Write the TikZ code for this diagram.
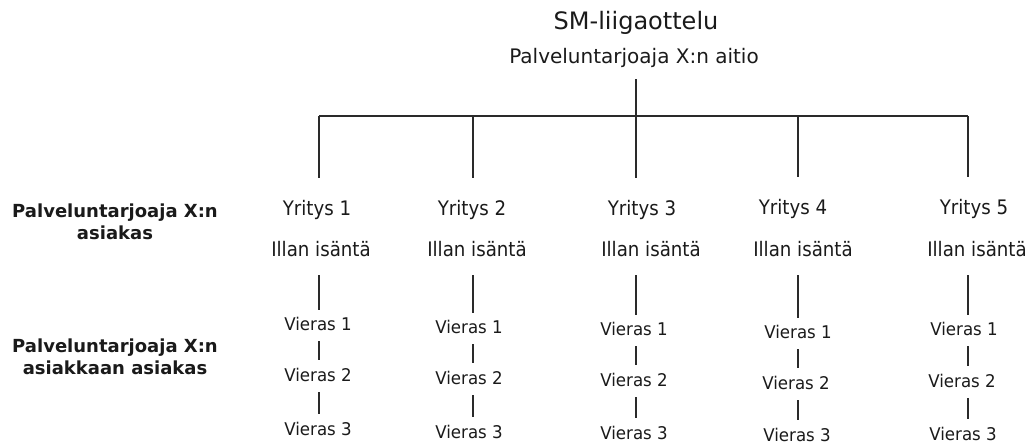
\documentclass[tikz,border=0pt]{standalone}
\usepackage{fontspec}
\setmainfont{DejaVu Sans}
\newfontfamily\firmfont{DejaVu Sans}[FakeStretch=0.91]
\newfontfamily\guestfont{DejaVu Sans}[FakeStretch=0.95]
\definecolor{textc}{HTML}{1A1A1A}
\definecolor{linec}{HTML}{2A2A2A}
\tikzset{
  txt/.style={inner sep=0pt, anchor=base, text=textc},
  titletxt/.style={txt, font=\fontsize{24}{28}\selectfont},
  subtxt/.style={txt, font=\fontsize{20}{24}\selectfont},
  firmtxt/.style={txt, font=\firmfont\fontsize{20}{24}\selectfont},
  guesttxt/.style={txt, font=\guestfont\fontsize{17.5}{21}\selectfont},
  sidetxt/.style={inner sep=0pt, anchor=center, align=center, text=textc, font=\bfseries\fontsize{18}{22.5}\selectfont},
  conn/.style={draw=linec, line width=1.3pt},
  hostconn/.style={conn, shorten <=19pt, shorten >=7pt},
  guestconn/.style={conn, shorten <=11pt, shorten >=8pt},
  barconn/.style={conn, shorten >=22pt},
}
\begin{document}
\begin{tikzpicture}[x=1pt,y=-1pt]
\useasboundingbox[fill=white] (0,0) rectangle (1035,445);

% title
\node[titletxt] (title) at (636,29) {SM-liigaottelu};
\node[subtxt] (sub) at (634,63) {Palveluntarjoaja X:n aitio};

% side labels
\node[sidetxt] (side1) at (115,222) {Palveluntarjoaja X:n\\asiakas};
\node[sidetxt] (side2) at (115,357) {Palveluntarjoaja X:n\\asiakkaan asiakas};

% bar coordinates
\coordinate (hub) at (636,116);
\coordinate (b1) at (319,116);
\coordinate (b2) at (473,116);
\coordinate (b3) at (636,116);
\coordinate (b4) at (798,116);
\coordinate (b5) at (968,116);

% firms
\node[firmtxt] (y1) at (317,215) {Yritys 1};
\node[firmtxt] (y2) at (472,215) {Yritys 2};
\node[firmtxt] (y3) at (642,215) {Yritys 3};
\node[firmtxt] (y4) at (793,214) {Yritys 4};
\node[firmtxt] (y5) at (974,214) {Yritys 5};

% hosts
\node[firmtxt] (h1) at (321,256) {Illan isäntä};
\node[firmtxt] (h2) at (477,256) {Illan isäntä};
\node[firmtxt] (h3) at (651,256) {Illan isäntä};
\node[firmtxt] (h4) at (803,256) {Illan isäntä};
\node[firmtxt] (h5) at (977,256) {Illan isäntä};

% guests
\node[guesttxt] (g11) at (318,330) {Vieras 1};
\node[guesttxt] (g12) at (318,381) {Vieras 2};
\node[guesttxt] (g13) at (318,435) {Vieras 3};

\node[guesttxt] (g21) at (469,333) {Vieras 1};
\node[guesttxt] (g22) at (469,384) {Vieras 2};
\node[guesttxt] (g23) at (469,438) {Vieras 3};

\node[guesttxt] (g31) at (634,335) {Vieras 1};
\node[guesttxt] (g32) at (634,386) {Vieras 2};
\node[guesttxt] (g33) at (634,439) {Vieras 3};

\node[guesttxt] (g41) at (798,338) {Vieras 1};
\node[guesttxt] (g42) at (796,389) {Vieras 2};
\node[guesttxt] (g43) at (797,441) {Vieras 3};

\node[guesttxt] (g51) at (964,335) {Vieras 1};
\node[guesttxt] (g52) at (962,387) {Vieras 2};
\node[guesttxt] (g53) at (963,440) {Vieras 3};

% tree connectors
\draw[conn, shorten <=12pt] (hub |- sub.south) -- (hub);
\draw[conn] (b1) -- (b5);
\foreach \i in {1,...,5} {
  \draw[barconn] (b\i) -- (b\i |- y\i.north);
  \draw[hostconn] (b\i |- h\i.south) -- (b\i |- g\i1.north);
  \draw[guestconn] (b\i |- g\i1.south) -- (b\i |- g\i2.north);
  \draw[guestconn] (b\i |- g\i2.south) -- (b\i |- g\i3.north);
}
\end{tikzpicture}
\end{document}
